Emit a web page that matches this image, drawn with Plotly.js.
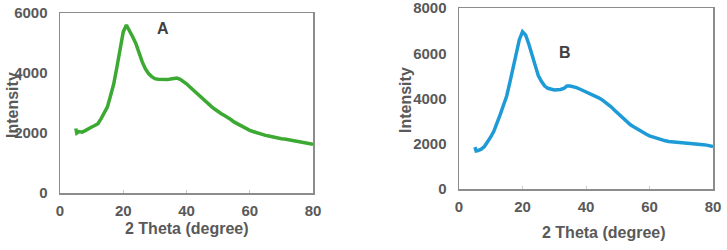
<!DOCTYPE html>
<html><head><meta charset="utf-8">
<script src="https://cdn.plot.ly/plotly-3.0.1.min.js"></script>
<style>html,body{margin:0;padding:0;background:#fff}#c{width:727px;height:250px}</style>
</head><body><div id="c"></div>
<script>
const thetaA = [5,5.3,6,7,8,9,10,11,12,13,14,15,16,17,18,19,20,21,22,23,24,25,26,27,28,29,30,31,32,33,34,35,36,37,38,39,40,41,42,43,44,45,46,47,48,49,50,51,52,53,54,55,56,57,58,59,60,61,62,63,64,65,66,67,68,69,70,71,72,73,74,75,76,77,78,79,80];
const intensityA = [2150,2000,2050,2030,2080,2150,2200,2250,2310,2480,2650,2870,3250,3640,4200,4870,5370,5600,5420,5200,4980,4640,4370,4140,3980,3880,3810,3790,3780,3770,3780,3800,3820,3830,3790,3720,3640,3540,3440,3340,3240,3140,3050,2960,2870,2790,2700,2640,2580,2530,2450,2370,2310,2250,2200,2140,2090,2050,2010,1980,1950,1920,1900,1870,1850,1830,1810,1800,1780,1760,1750,1730,1710,1690,1670,1650,1620];
const thetaB = [5,5.4,6,7,8,9,10,11,12,13,14,15,16,17,18,19,20,21,22,23,24,25,26,27,28,29,30,31,32,33,34,35,36,37,38,39,40,41,42,43,44,45,46,47,48,49,50,51,52,53,54,55,56,57,58,59,60,61,62,63,64,65,66,67,68,69,70,71,72,73,74,75,76,77,78,79,80];
const intensityB = [1850,1680,1700,1760,1880,2080,2300,2560,2900,3300,3700,4100,4700,5300,6000,6600,6950,6800,6400,5900,5400,5000,4750,4550,4450,4400,4380,4390,4400,4450,4550,4550,4520,4480,4420,4360,4300,4240,4170,4100,4030,3950,3850,3750,3620,3480,3350,3200,3050,2940,2840,2750,2660,2580,2500,2420,2350,2300,2250,2200,2160,2130,2100,2090,2080,2060,2050,2040,2030,2020,2010,2000,1980,1960,1940,1910,1880];
const xTicks = [0,20,40,60,80];
const yTicksA = [0,2000,4000,6000];
const yTicksB = [0,2000,4000,6000,8000];
const W = 727, H = 250;
const FAM = 'Liberation Sans, Arial, sans-serif';
const tickFont = {family:FAM, size:15, color:'#595959', weight:'bold'};
const titleFont = {family:FAM, size:16, color:'#595959', weight:'bold'};
function xax(d){return {domain:d, range:[0,80], tickvals:xTicks, showline:true, mirror:true, linecolor:'#8c8c8c', linewidth:1.5, showgrid:false, zeroline:false, ticks:'inside', ticklen:3, tickcolor:'#c8c8c8', tickfont:tickFont, ticklabelstandoff:3, ticklabeloverflow:'allow', fixedrange:true};}
function yax(d,r,tv,anchor){return {domain:d, range:r, tickvals:tv, showline:true, mirror:true, linecolor:'#8c8c8c', linewidth:1.5, showgrid:false, zeroline:false, ticks:'', tickfont:tickFont, anchor:anchor, ticklabelstandoff:8, ticklabeloverflow:'allow', fixedrange:true};}
const data = [
 {x:thetaA, y:intensityA, xaxis:'x', yaxis:'y', mode:'lines', line:{color:'rgb(60,170,50)', width:3.5}},
 {x:thetaB, y:intensityB, xaxis:'x2', yaxis:'y2', mode:'lines', line:{color:'rgb(30,155,215)', width:3.5}}
];
function ann(text, xref, yref, x, y, font, angle){return {text:text, xref:xref, yref:yref, x:x, y:y, xanchor:'center', yanchor:'middle', textangle:angle||0, showarrow:false, font:font};}
const labelFont = {family:FAM, size:16, color:'#404040', weight:'bold'};
const layout = {
 width:W, height:H, margin:{l:0,r:0,t:0,b:0}, showlegend:false, paper_bgcolor:'#fff', plot_bgcolor:'#fff',
 xaxis: xax([60/W, 313/W]),
 yaxis: yax([(H-193)/H, (H-13)/H], [0,6000], yTicksA, 'x'),
 xaxis2: Object.assign(xax([459/W, 713/W]), {anchor:'y2'}),
 yaxis2: yax([(H-189)/H, (H-8)/H], [0,8000], yTicksB, 'x2'),
 annotations: [
  ann('A','x','y',32.6,5470,labelFont),
  ann('B','x2','y2',33.4,6050,labelFont),
  ann('2 Theta (degree)','paper','paper',187/W,(H-228)/H,titleFont),
  ann('2 Theta (degree)','paper','paper',604/W,(H-232)/H,titleFont),
  ann('Intensity','paper','paper',12/W,(H-105)/H,titleFont,-90),
  ann('Intensity','paper','paper',405/W,(H-100)/H,titleFont,-90)
 ]
};
Plotly.newPlot('c', data, layout, {displayModeBar:false, staticPlot:true});
</script></body></html>
